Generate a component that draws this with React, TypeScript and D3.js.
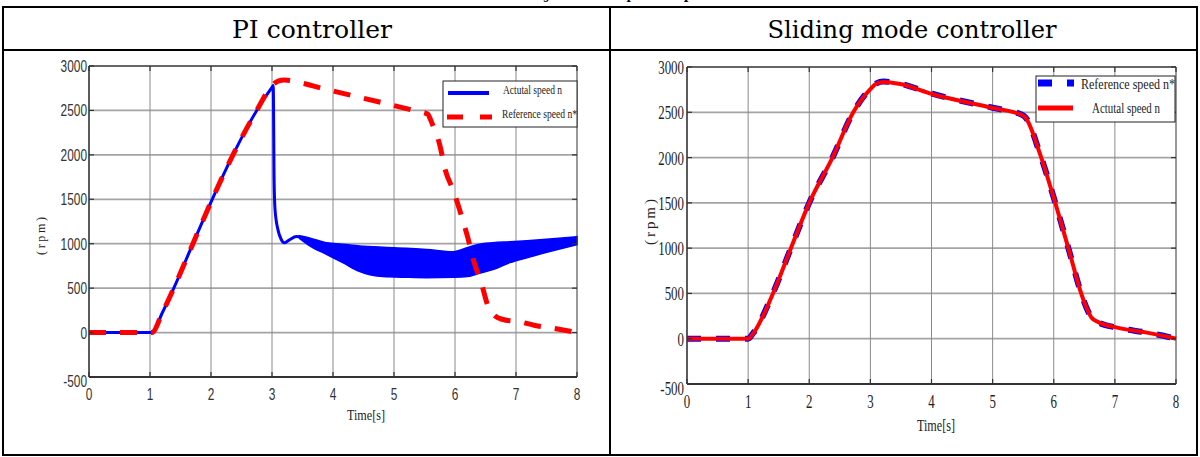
import React from "react";
import * as d3 from "d3";

// ---- data ----
const TIME_TICKS = [0, 1, 2, 3, 4, 5, 6, 7, 8];
const SPEED_TICKS = [-500, 0, 500, 1000, 1500, 2000, 2500, 3000];

// PI controller: reference speed n* (red dashed)
const PI_REF_T = [0, 0.5, 1.0, 1.03, 1.2, 1.39, 1.66, 2.02, 2.36, 2.75, 3.0, 3.1, 3.2, 3.54, 3.79, 4.06, 4.82, 5.38, 5.55, 5.62, 5.75, 5.84, 5.98, 6.1, 6.21, 6.31, 6.43, 6.54, 6.62, 6.77, 7.07, 7.31, 7.59, 8.0];
const PI_REF_N = [0, 0, 0, 0, 220, 500, 930, 1500, 2000, 2500, 2780, 2830, 2843, 2800, 2754, 2709, 2585, 2490, 2460, 2360, 2113, 1832, 1585, 1326, 1068, 798, 562, 300, 210, 150, 120, 80, 50, 0];

// PI controller: actual speed n (blue), before the oscillating band
const PI_ACT_T = [0, 0.5, 1.0, 1.03, 1.2, 1.39, 1.66, 2.02, 2.36, 2.75, 3.0, 3.02, 3.035, 3.05, 3.1, 3.15, 3.2, 3.28, 3.4, 3.47];
const PI_ACT_N = [0, 0, 0, 0, 220, 500, 930, 1500, 2000, 2500, 2760, 2780, 1700, 1380, 1150, 1050, 1010, 1040, 1080, 1075];

// PI controller: envelope of the oscillating actual speed
const PI_BAND_T = [3.45, 3.6, 3.9, 4.16, 4.44, 4.82, 5.2, 5.54, 5.97, 6.2, 6.36, 6.62, 6.9, 7.18, 7.6, 8.0];
const PI_BAND_HI = [1090, 1068, 1010, 995, 975, 960, 950, 935, 910, 955, 989, 1011, 1022, 1034, 1055, 1079];
const PI_BAND_LO = [1060, 985, 877, 787, 686, 630, 622, 618, 622, 630, 660, 708, 787, 843, 920, 989];

// Sliding mode controller: reference speed n* (blue dashed)
const SMC_REF_T = [0, 0.5, 1.0, 1.08, 1.41, 1.7, 2.0, 2.38, 2.72, 3.0, 3.1, 3.21, 3.49, 4.01, 5.0, 5.48, 5.53, 5.78, 6.0, 6.27, 6.43, 6.55, 6.62, 6.71, 7.04, 7.5, 7.86, 8.0];
const SMC_REF_N = [0, 0, 0, 60, 508, 1000, 1500, 2000, 2500, 2760, 2820, 2840, 2815, 2705, 2550, 2473, 2450, 2031, 1557, 927, 541, 320, 230, 188, 121, 70, 22, 0];

// Sliding mode controller: actual speed n (red)
const SMC_ACT_T = [0, 0.5, 1.0, 1.08, 1.41, 1.7, 2.0, 2.38, 2.72, 3.0, 3.1, 3.21, 3.49, 4.01, 5.0, 5.48, 5.53, 5.78, 6.0, 6.27, 6.43, 6.55, 6.62, 6.71, 7.04, 7.5, 7.86, 8.0];
const SMC_ACT_N = [0, 0, 0, 55, 505, 1000, 1500, 2000, 2500, 2755, 2818, 2835, 2812, 2702, 2548, 2470, 2448, 2030, 1555, 925, 540, 320, 232, 190, 122, 70, 22, 0];

const zip = (t: number[], n: number[]) => t.map((v, i) => ({ t: v, n: n[i] }));

const BLUE = "#0000ff";
const RED = "#ff0000";

type TxtProps = {
  x: number; y: number; size: number; family: string; sx?: number; anchor?: string;
  fill?: string; len?: number; adjust?: string; rotate?: number; weight?: string; children: any;
};

function Txt({ x, y, size, family, sx = 1, anchor = "start", fill = "#000", len, adjust, rotate = 0, weight, children }: TxtProps) {
  return (
    <text
      transform={`translate(${x},${y}) rotate(${rotate}) scale(${sx},1)`}
      textAnchor={anchor}
      fontSize={size}
      fontFamily={family}
      fontWeight={weight}
      fill={fill}
      textLength={len}
      lengthAdjust={len ? adjust || "spacingAndGlyphs" : undefined}
    >
      {children}
    </text>
  );
}

type AxesProps = {
  id: string;
  xr: [number, number];
  yr: [number, number];
  tickFont: { family: string; size: number; sx: number; fill: string };
  yLabelEnd: number;
  yLabelDy: number;
  xLabelY: number;
  render: (x: d3.ScaleLinear<number, number>, y: d3.ScaleLinear<number, number>) => any;
};

function Axes({ id, xr, yr, tickFont, yLabelEnd, yLabelDy, xLabelY, render }: AxesProps) {
  const x = d3.scaleLinear().domain([0, 8]).range(xr);
  const y = d3.scaleLinear().domain([-500, 3000]).range(yr);
  const [x0, x1] = xr;
  const [yb, yt] = yr;
  const tk = 5;
  return (
    <g>
      <defs>
        <clipPath id={id}>
          <rect x={x0} y={yt - 3} width={x1 - x0 + 2} height={yb - yt + 3} />
        </clipPath>
      </defs>
      {SPEED_TICKS.filter((v) => v > -500 && v < 3000).map((v) => (
        <line key={"h" + v} x1={x0} x2={x1} y1={y(v)} y2={y(v)} stroke="#a4a4a4" strokeWidth={1.8} />
      ))}
      {TIME_TICKS.filter((v) => v > 0 && v < 8).map((v) => (
        <line key={"v" + v} x1={x(v)} x2={x(v)} y1={yt} y2={yb} stroke="#8a8a8a" strokeWidth={1} />
      ))}
      <g clipPath={`url(#${id})`}>{render(x, y)}</g>
      <line x1={x0} x2={x1} y1={yt} y2={yt} stroke="#333" strokeWidth={1.5} />
      <line x1={x1} x2={x1} y1={yt} y2={yb} stroke="#333" strokeWidth={1} />
      <line x1={x0} x2={x1} y1={yb} y2={yb} stroke="#333" strokeWidth={2.2} />
      <line x1={x0} x2={x0} y1={yt} y2={yb} stroke="#333" strokeWidth={1.6} />
      {TIME_TICKS.map((v) => (
        <g key={"xt" + v}>
          <line x1={x(v)} x2={x(v)} y1={yb} y2={yb - tk} stroke="#333" strokeWidth={1.2} />
          <line x1={x(v)} x2={x(v)} y1={yt} y2={yt + tk} stroke="#333" strokeWidth={1.2} />
          <Txt x={x(v)} y={xLabelY} size={tickFont.size} family={tickFont.family} sx={tickFont.sx} anchor="middle" fill={tickFont.fill}>
            {v}
          </Txt>
        </g>
      ))}
      {SPEED_TICKS.map((v) => (
        <g key={"yt" + v}>
          <line x1={x0} x2={x0 + tk} y1={y(v)} y2={y(v)} stroke="#333" strokeWidth={1.2} />
          <line x1={x1} x2={x1 - tk} y1={y(v)} y2={y(v)} stroke="#333" strokeWidth={1.2} />
          <Txt x={yLabelEnd} y={y(v) + yLabelDy + (v === -500 ? 4 : 0)} size={tickFont.size} family={tickFont.family} sx={tickFont.sx} anchor="end" fill={tickFont.fill}>
            {v}
          </Txt>
        </g>
      ))}
    </g>
  );
}

export default function App() {
  const piRef = zip(PI_REF_T, PI_REF_N);
  const piAct = zip(PI_ACT_T, PI_ACT_N);
  const piBand = PI_BAND_T.map((t, i) => ({ t, hi: PI_BAND_HI[i], lo: PI_BAND_LO[i] }));
  const smcRef = zip(SMC_REF_T, SMC_REF_N);
  const smcAct = zip(SMC_ACT_T, SMC_ACT_N);

  const serif = "'Liberation Serif', 'Times New Roman', serif";
  const sans = "'Liberation Sans', Arial, sans-serif";
  const head = "'DejaVu Serif', Cambria, serif";

  return (
    <svg width={1200} height={457} style={{ position: "absolute", left: 0, top: 0, background: "#fff" }}>
      <rect x={0} y={0} width={1200} height={457} fill="#fff" />
      {/* caption of the table, cut off at the top edge like in the source page */}
      <Txt x={533} y={-1} size={12} family={head} weight="bold" len={78}>
        Figure 7: Rotor
      </Txt>
      <Txt x={620} y={-1} size={12} family={head} weight="bold" len={38}>
        speed
      </Txt>
      <Txt x={662} y={-1} size={12} family={head} weight="bold" len={70}>
        responses
      </Txt>

      {/* table frame */}
      <g stroke="#000" strokeWidth={2} fill="none">
        <rect x={3} y={7} width={1194} height={448} />
        <line x1={3} x2={1197} y1={50} y2={50} />
        <line x1={610} x2={610} y1={7} y2={455} />
      </g>
      <Txt x={312} y={38} size={24} family={head} anchor="middle" len={160}>
        PI controller
      </Txt>
      <Txt x={912} y={38} size={24} family={head} anchor="middle" len={289}>
        Sliding mode controller
      </Txt>

      {/* left: PI controller */}
      <Axes
        id="clipPI"
        xr={[89, 577]}
        yr={[377, 66]}
        tickFont={{ family: sans, size: 16.5, sx: 0.72, fill: "#333" }}
        yLabelEnd={87}
        yLabelDy={6}
        xLabelY={400}
        render={(x, y) => {
          const line = d3.line<{ t: number; n: number }>().x((d) => x(d.t)).y((d) => y(d.n)).curve(d3.curveMonotoneX);
          const area = d3
            .area<{ t: number; hi: number; lo: number }>()
            .x((d) => x(d.t))
            .y0((d) => y(d.lo))
            .y1((d) => y(d.hi))
            .curve(d3.curveMonotoneX);
          return (
            <g>
              <path d={area(piBand) || ""} fill={BLUE} stroke={BLUE} strokeWidth={1.5} />
              <path d={line(piAct) || ""} fill="none" stroke={BLUE} strokeWidth={3} />
              <path d={line(piRef) || ""} fill="none" stroke={RED} strokeWidth={5} strokeDasharray="17,14" />
            </g>
          );
        }}
      />
      <Txt x={366} y={420} size={14} family={serif} anchor="middle" len={38} fill="#222">
        Time[s]
      </Txt>
      <Txt x={45} y={236} size={12} family={serif} anchor="middle" rotate={-90} len={38} adjust="spacing" fill="#222">
        (rpm)
      </Txt>
      {/* left legend */}
      <rect x={443} y={81} width={134} height={46} fill="#fff" stroke="#222" strokeWidth={1} />
      <line x1={448} x2={489} y1={93} y2={93} stroke={BLUE} strokeWidth={4} />
      <Txt x={503} y={94} size={12} family={serif} len={59} fill="#222">
        Actutal speed n
      </Txt>
      <line x1={447} x2={492} y1={117} y2={117} stroke={RED} strokeWidth={5} strokeDasharray="16,17" />
      <Txt x={502} y={118} size={12} family={serif} len={75} fill="#222">
        Reference speed n*
      </Txt>

      {/* right: sliding mode controller */}
      <Axes
        id="clipSMC"
        xr={[687, 1176]}
        yr={[384, 67]}
        tickFont={{ family: serif, size: 19, sx: 0.68, fill: "#222" }}
        yLabelEnd={684}
        yLabelDy={7}
        xLabelY={408}
        render={(x, y) => {
          const line = d3.line<{ t: number; n: number }>().x((d) => x(d.t)).y((d) => y(d.n)).curve(d3.curveMonotoneX);
          return (
            <g>
              <path d={line(smcRef) || ""} fill="none" stroke={BLUE} strokeWidth={6} strokeDasharray="14,15" />
              <path d={line(smcAct) || ""} fill="none" stroke={RED} strokeWidth={4} />
            </g>
          );
        }}
      />
      <Txt x={936} y={431} size={16.5} family={serif} anchor="middle" len={38} fill="#222">
        Time[s]
      </Txt>
      <Txt x={655} y={222} size={15} family={serif} anchor="middle" rotate={-90} len={46} adjust="spacing" fill="#222">
        (rpm)
      </Txt>
      {/* right legend */}
      <rect x={1036} y={76} width={139} height={46} fill="#fff" stroke="#222" strokeWidth={1} />
      <line x1={1038} x2={1074} y1={83} y2={83} stroke={BLUE} strokeWidth={7} strokeDasharray="14,15" />
      <Txt x={1081} y={89} size={15} family={serif} len={94} fill="#222">
        Reference speed n*
      </Txt>
      <line x1={1038} x2={1073} y1={108} y2={108} stroke={RED} strokeWidth={5} />
      <Txt x={1092} y={113} size={15} family={serif} len={68} fill="#222">
        Actutal speed n
      </Txt>
    </svg>
  );
}
